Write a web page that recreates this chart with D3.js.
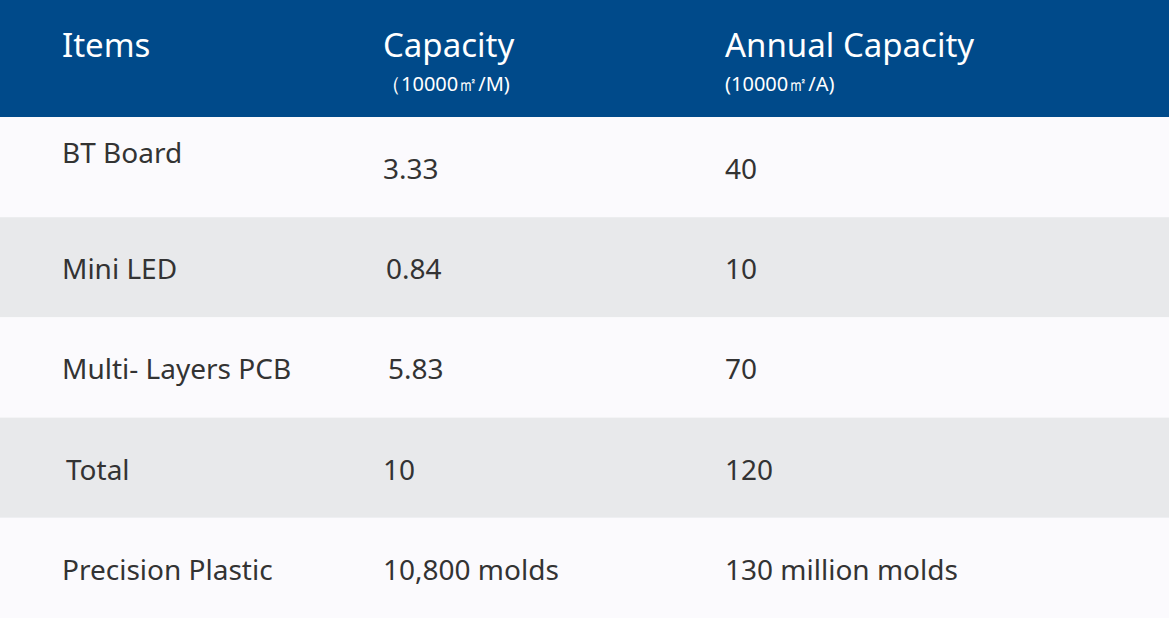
<!DOCTYPE html>
<html><head><meta charset="utf-8">
<script src="https://cdn.jsdelivr.net/npm/d3@7"></script>
<style>body{margin:0;background:#fff}svg{display:block;font-family:"Noto Sans",sans-serif}</style>
</head><body><svg></svg>
<script>
var WIDTH = 1169, HEIGHT = 618;
var headers = ['Items', 'Capacity', 'Annual Capacity'];
var subHeaders = ['', '（10000㎡/M)', '(10000㎡/A)'];
var items = ['BT Board', 'Mini LED', 'Multi- Layers PCB', 'Total', 'Precision Plastic'];
var capacity = ['3.33', '0.84', '5.83', '10', '10,800 molds'];
var annual = ['40', '10', '70', '120', '130 million molds'];

var svg = d3.select('svg').attr('width', WIDTH).attr('height', HEIGHT);
var headH = 117;
var y = d3.scaleBand().domain(d3.range(items.length)).range([headH, HEIGHT]);
var colX = [62, 383, 725];

svg.append('rect').attr('width', WIDTH).attr('height', headH).attr('fill', '#004a8a');
headers.forEach(function(h, i) {
  svg.append('text').attr('x', colX[i]).attr('y', 57).attr('fill', '#fff')
    .style('font-size', '33px').text(h);
  if (subHeaders[i]) svg.append('text').attr('x', i === 1 ? colX[i] - 2 : colX[i]).attr('y', 91)
    .attr('fill', '#fff').style('font-size', '20px').text(subHeaders[i]);
});

var rows = svg.selectAll('g.row').data(items).enter().append('g')
  .attr('transform', function(d, i) { return 'translate(0,' + y(i) + ')'; });
rows.append('rect').attr('width', WIDTH).attr('height', y.bandwidth())
  .attr('fill', function(d, i) { return i % 2 ? '#e8e9eb' : '#fbfafd'; });
var itemDx = [0, 0, 0, 4, 0], capDx = [0, 3, 5, 0, 0];
rows.append('text').attr('x', function(d, i) { return colX[0] + itemDx[i]; })
  .attr('y', function(d, i) { return i === 0 ? 46 : 62; }).text(function(d) { return d; });
rows.append('text').attr('x', function(d, i) { return colX[1] + capDx[i]; })
  .attr('y', 62).text(function(d, i) { return capacity[i]; });
rows.append('text').attr('x', colX[2]).attr('y', 62).text(function(d, i) { return annual[i]; });
rows.selectAll('text').attr('fill', '#333').style('font-size', '28px');
</script></body></html>
